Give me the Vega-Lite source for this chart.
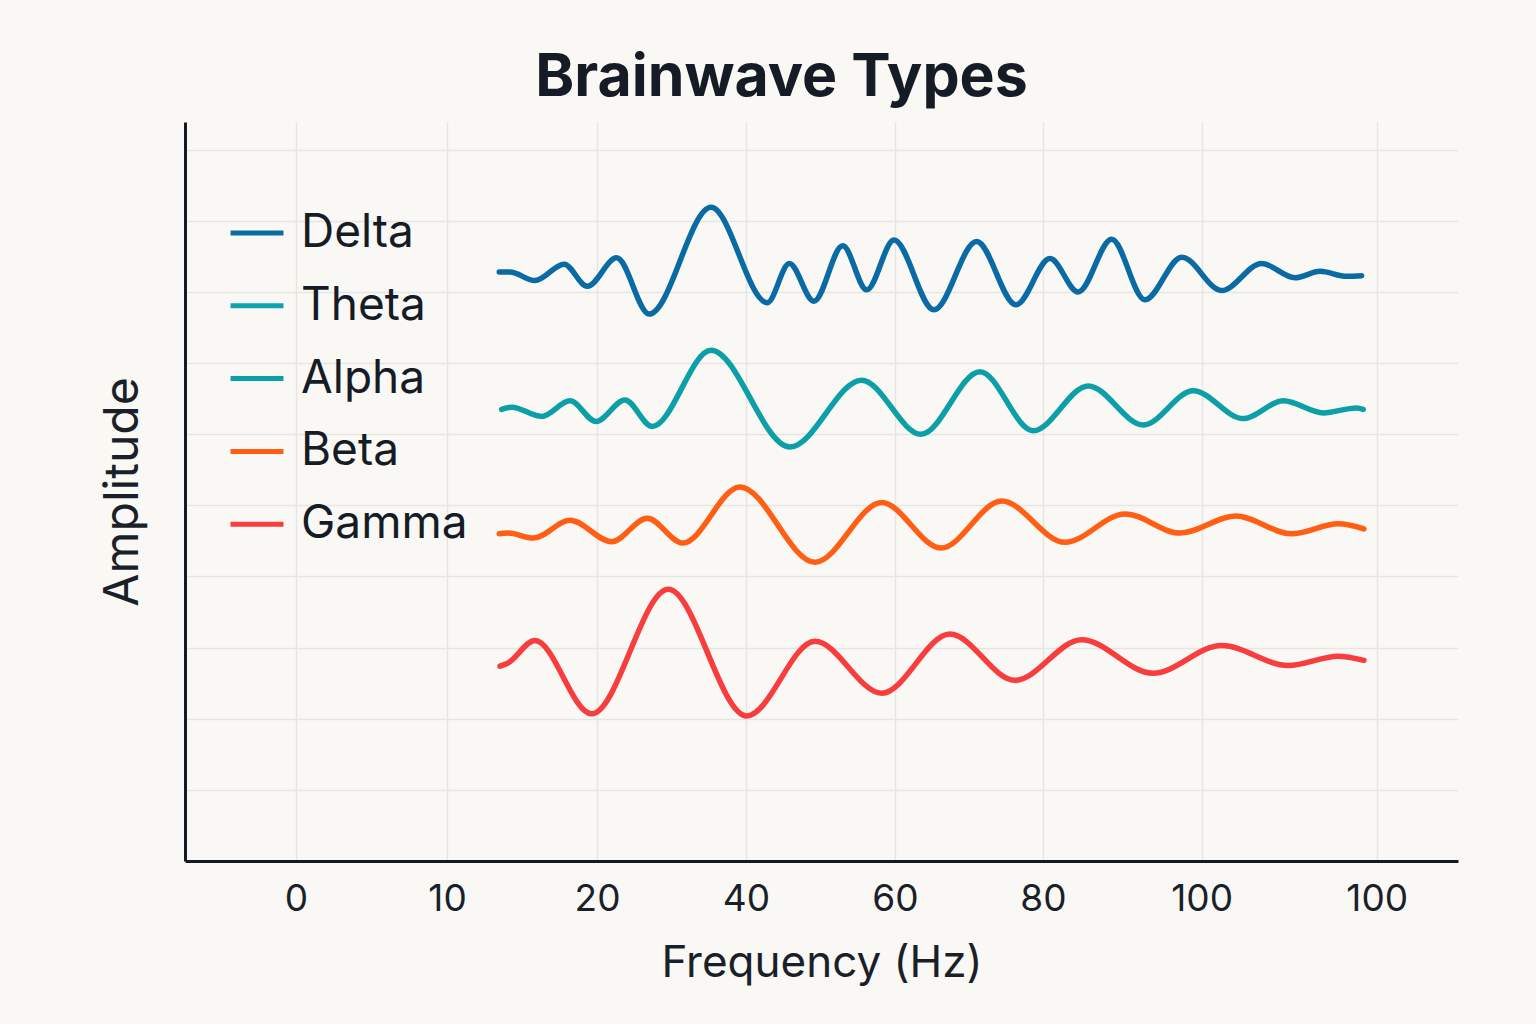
{
  "$schema": "https://vega.github.io/schema/vega-lite/v6.json",
  "width": 1273,
  "height": 739,
  "autosize": {"type": "none"},
  "padding": {"left": 185, "top": 122, "right": 78, "bottom": 163},
  "background": "#faf8f5",
  "title": {"text": "Brainwave Types", "fontSize": 59, "font": "Inter", "fontWeight": "bold", "color": "#161c26", "anchor": "middle", "dx": -40, "offset": 14},
  "config": {
    "view": {"stroke": null},
    "axis": {"gridColor": "#e7e5e2", "gridWidth": 1.5, "ticks": false, "domainColor": "#151a22", "domainWidth": 3, "labelFont": "Inter", "titleFont": "Inter", "labelColor": "#1a1f29", "titleColor": "#1a1f29", "titleFontWeight": "normal"}
  },
  "data": {"values": [
    {"wave": "Delta", "f": 13.55, "a": 8.28},
    {"wave": "Delta", "f": 14.27, "a": 8.28},
    {"wave": "Delta", "f": 15.93, "a": 8.16},
    {"wave": "Delta", "f": 17.87, "a": 8.39},
    {"wave": "Delta", "f": 19.42, "a": 8.08},
    {"wave": "Delta", "f": 21.38, "a": 8.48},
    {"wave": "Delta", "f": 23.55, "a": 7.69},
    {"wave": "Delta", "f": 27.67, "a": 9.19},
    {"wave": "Delta", "f": 31.42, "a": 7.85},
    {"wave": "Delta", "f": 32.89, "a": 8.40},
    {"wave": "Delta", "f": 34.53, "a": 7.87},
    {"wave": "Delta", "f": 36.45, "a": 8.65},
    {"wave": "Delta", "f": 38.05, "a": 8.03},
    {"wave": "Delta", "f": 39.87, "a": 8.73},
    {"wave": "Delta", "f": 42.53, "a": 7.75},
    {"wave": "Delta", "f": 45.38, "a": 8.71},
    {"wave": "Delta", "f": 48.0, "a": 7.82},
    {"wave": "Delta", "f": 50.27, "a": 8.47},
    {"wave": "Delta", "f": 52.15, "a": 8.00},
    {"wave": "Delta", "f": 54.38, "a": 8.74},
    {"wave": "Delta", "f": 56.6, "a": 7.89},
    {"wave": "Delta", "f": 59.05, "a": 8.49},
    {"wave": "Delta", "f": 61.71, "a": 8.02},
    {"wave": "Delta", "f": 64.38, "a": 8.40},
    {"wave": "Delta", "f": 66.6, "a": 8.20},
    {"wave": "Delta", "f": 68.27, "a": 8.29},
    {"wave": "Delta", "f": 70.05, "a": 8.22},
    {"wave": "Delta", "f": 71.05, "a": 8.23},
    {"wave": "Alpha", "f": 13.71, "a": 6.35},
    {"wave": "Alpha", "f": 14.38, "a": 6.38},
    {"wave": "Alpha", "f": 16.38, "a": 6.25},
    {"wave": "Alpha", "f": 18.27, "a": 6.47},
    {"wave": "Alpha", "f": 20.0, "a": 6.18},
    {"wave": "Alpha", "f": 21.93, "a": 6.48},
    {"wave": "Alpha", "f": 23.75, "a": 6.11},
    {"wave": "Alpha", "f": 27.67, "a": 7.18},
    {"wave": "Alpha", "f": 32.93, "a": 5.82},
    {"wave": "Alpha", "f": 37.71, "a": 6.76},
    {"wave": "Alpha", "f": 41.67, "a": 6.0},
    {"wave": "Alpha", "f": 45.6, "a": 6.88},
    {"wave": "Alpha", "f": 49.15, "a": 6.05},
    {"wave": "Alpha", "f": 52.82, "a": 6.68},
    {"wave": "Alpha", "f": 56.49, "a": 6.13},
    {"wave": "Alpha", "f": 59.82, "a": 6.61},
    {"wave": "Alpha", "f": 63.15, "a": 6.22},
    {"wave": "Alpha", "f": 65.82, "a": 6.47},
    {"wave": "Alpha", "f": 68.49, "a": 6.30},
    {"wave": "Alpha", "f": 70.71, "a": 6.37},
    {"wave": "Alpha", "f": 71.15, "a": 6.35},
    {"wave": "Beta", "f": 13.55, "a": 4.60},
    {"wave": "Beta", "f": 14.13, "a": 4.61},
    {"wave": "Beta", "f": 15.82, "a": 4.54},
    {"wave": "Beta", "f": 18.27, "a": 4.79},
    {"wave": "Beta", "f": 21.05, "a": 4.49},
    {"wave": "Beta", "f": 23.42, "a": 4.82},
    {"wave": "Beta", "f": 25.78, "a": 4.47},
    {"wave": "Beta", "f": 29.6, "a": 5.26},
    {"wave": "Beta", "f": 34.6, "a": 4.20},
    {"wave": "Beta", "f": 39.05, "a": 5.04},
    {"wave": "Beta", "f": 43.0, "a": 4.40},
    {"wave": "Beta", "f": 47.05, "a": 5.06},
    {"wave": "Beta", "f": 51.27, "a": 4.48},
    {"wave": "Beta", "f": 55.27, "a": 4.88},
    {"wave": "Beta", "f": 58.93, "a": 4.61},
    {"wave": "Beta", "f": 62.67, "a": 4.85},
    {"wave": "Beta", "f": 66.38, "a": 4.60},
    {"wave": "Beta", "f": 69.49, "a": 4.74},
    {"wave": "Beta", "f": 71.2, "a": 4.67},
    {"wave": "Gamma", "f": 13.6, "a": 2.74},
    {"wave": "Gamma", "f": 14.1, "a": 2.78},
    {"wave": "Gamma", "f": 15.93, "a": 3.10},
    {"wave": "Gamma", "f": 19.71, "a": 2.07},
    {"wave": "Gamma", "f": 24.82, "a": 3.82},
    {"wave": "Gamma", "f": 30.05, "a": 2.04},
    {"wave": "Gamma", "f": 34.6, "a": 3.09},
    {"wave": "Gamma", "f": 39.05, "a": 2.36},
    {"wave": "Gamma", "f": 43.6, "a": 3.19},
    {"wave": "Gamma", "f": 47.93, "a": 2.54},
    {"wave": "Gamma", "f": 52.38, "a": 3.11},
    {"wave": "Gamma", "f": 57.13, "a": 2.64},
    {"wave": "Gamma", "f": 61.71, "a": 3.03},
    {"wave": "Gamma", "f": 66.15, "a": 2.75},
    {"wave": "Gamma", "f": 69.49, "a": 2.88},
    {"wave": "Gamma", "f": 71.2, "a": 2.82}
  ]},
  "mark": {"type": "line", "interpolate": "monotone", "strokeWidth": 5.5, "strokeCap": "round", "strokeJoin": "round"},
  "encoding": {
    "x": {"field": "f", "type": "quantitative", "scale": {"domain": [-7.4, 77.47], "nice": false, "zero": false},
      "axis": {"values": [0, 10.07, 20.07, 30, 39.93, 49.8, 60.38, 72.05], "grid": true,
        "labelExpr": "datum.value < 5 ? '0' : datum.value < 15 ? '10' : datum.value < 25 ? '20' : datum.value < 35 ? '40' : datum.value < 45 ? '60' : datum.value < 55 ? '80' : '100'",
        "labelFontSize": 37, "labelPadding": 20, "title": "Frequency (Hz)", "titleFontSize": 44, "titlePadding": 24}},
    "y": {"field": "a", "type": "quantitative", "scale": {"domain": [0, 10.39], "nice": false, "zero": false},
      "axis": {"values": [1, 2, 3, 4, 5, 6, 7, 8, 9, 10], "grid": true, "labels": false, "title": "Amplitude", "titleFontSize": 48, "titlePadding": 38}},
    "color": {"field": "wave", "type": "nominal",
      "scale": {"domain": ["Delta", "Theta", "Alpha", "Beta", "Gamma"], "range": ["#0a6aa4", "#0ea3ad", "#0c9fa8", "#ff5e14", "#f73d3d"]},
      "legend": {"orient": "none", "legendX": 43, "legendY": 82, "title": null, "symbolType": "stroke", "symbolSize": 2800, "symbolStrokeWidth": 5, "labelFontSize": 46, "labelFont": "Inter", "labelColor": "#161c26", "labelOffset": 15, "labelLimit": 400, "rowPadding": 20.8, "padding": 0}}
  }
}
